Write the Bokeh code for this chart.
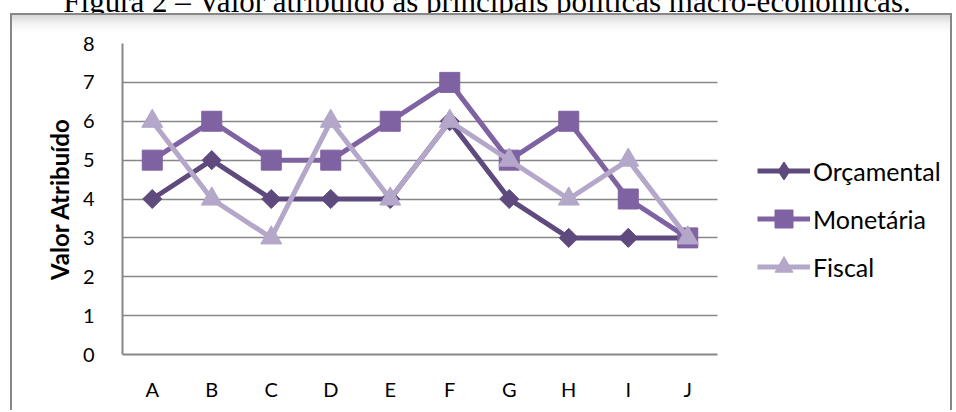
import math

from bokeh.embed import file_html
from bokeh.layouts import column
from bokeh.models import (ColumnDataSource, Div, FixedTicker, Grid, Legend,
                          LegendItem, Range1d)
from bokeh.plotting import figure
from bokeh.resources import INLINE

# Avaliação atribuída a cada política (escala 0-8)
categorias = ["A", "B", "C", "D", "E", "F", "G", "H", "I", "J"]
orcamental = [4, 5, 4, 4, 4, 6, 4, 3, 3, 3]
monetaria = [5, 6, 5, 5, 6, 7, 5, 6, 4, 3]
fiscal = [6, 4, 3, 6, 4, 6, 5, 4, 5, 3]
y_ticks = [0, 1, 2, 3, 4, 5, 6, 7, 8]

titulo = "Figura 2 – Valor atribuído às principais políticas macro-económicas."

FONT = "Lato"
GRID = "#878787"

# cada categoria ocupa uma unidade; o ponto fica no centro da unidade
pos = [i + 0.5 for i in range(len(categorias))]
n_cat = len(categorias)

# legenda da figura, acima da moldura (só a parte inferior fica visível)
head = Div(
    text=f'<div style="margin-top:-15px;white-space:nowrap;text-align:center;'
         f'font-family:\'Liberation Serif\';font-size:31px;line-height:31px;'
         f'color:black;width:974px">{titulo}</div>',
    width=956, height=13, margin=0,
    styles={"overflow": "hidden"},
)

# gráfico principal dentro da moldura; a área à direita acolhe a legenda
p = figure(
    width=942, height=397,
    x_range=Range1d(0, n_cat * 830 / 595),
    y_range=Range1d(0, 8),
    output_backend="svg", toolbar_location=None,
    min_border_left=110, min_border_right=2,
    min_border_top=28, min_border_bottom=58,
    background_fill_color="white", border_fill_alpha=0,
    margin=(0, 0, 0, 10),
    styles={
        "border-left": f"2px solid {GRID}",
        "border-top": f"2px solid {GRID}",
        "border-right": f"2px solid {GRID}",
        "background": "linear-gradient(to bottom, #d6d6d6 0px, #f4f4f4 9px, #ffffff 18px)",
    },
)
p.outline_line_color = None

p.xaxis.ticker = FixedTicker(ticks=pos)
p.xaxis.major_label_overrides = {x: c for x, c in zip(pos, categorias)}
p.xaxis.bounds = (0, n_cat)
p.xaxis.axis_line_color = GRID
p.xaxis.axis_line_width = 2
p.xaxis.major_tick_line_color = None
p.xaxis.minor_tick_line_color = None
p.xaxis.major_label_text_font = FONT
p.xaxis.major_label_text_font_size = "20px"
p.xaxis.major_label_text_color = "black"
p.xaxis.major_label_standoff = 16

p.yaxis.ticker = FixedTicker(ticks=y_ticks)
p.yaxis.axis_line_color = GRID
p.yaxis.axis_line_width = 2
p.yaxis.major_tick_line_color = None
p.yaxis.minor_tick_line_color = None
p.yaxis.major_label_text_font = FONT
p.yaxis.major_label_text_font_size = "20px"
p.yaxis.major_label_text_color = "black"
p.yaxis.major_label_standoff = 22
p.yaxis.axis_label = "Valor Atribuído"
p.yaxis.axis_label_text_font = FONT
p.yaxis.axis_label_text_font_size = "24px"
p.yaxis.axis_label_text_font_style = "bold"
p.yaxis.axis_label_text_color = "black"
p.yaxis.axis_label_standoff = 6

p.xgrid.grid_line_color = None
if "cross_bounds" in Grid.properties():
    p.ygrid.grid_line_color = GRID
    p.ygrid.grid_line_width = 1.5
    p.ygrid.cross_bounds = (0, n_cat)
else:
    p.ygrid.grid_line_color = None
    p.segment(x0=0, x1=n_cat, y0=y_ticks, y1=y_ticks, line_color=GRID,
              line_width=1.5, level="underlay")

src = ColumnDataSource(dict(x=pos, orc=orcamental, mon=monetaria, fis=fiscal))

# nome, coluna, cor, marcador no gráfico, tamanho, ângulo, marcador na legenda
series = [
    ("Orçamental", "orc", "#5f4a7e", "square", 13.5, math.pi / 4, "diamond"),
    ("Monetária", "mon", "#7f62a1", "square", 20, 0, "square"),
    ("Fiscal", "fis", "#b4a7c9", "triangle", 21, 0, "triangle"),
]

items = []
for name, col, color, marker, size, angle, leg_marker in series:
    ln = p.line("x", col, source=src, line_color=color, line_width=5)
    sc = p.scatter("x", col, source=src, marker=marker, size=size, angle=angle,
                   fill_color=color, line_color=color)
    if leg_marker != marker:
        # símbolo mostrado só na legenda (o ângulo não é aplicado na legenda)
        sc = p.scatter("x", col, source=src, marker=leg_marker,
                       fill_color=color, line_color=color, visible=False)
    items.append(LegendItem(label=name, renderers=[ln, sc]))

legend = Legend(
    items=items, location=(635, 65),
    glyph_width=53, glyph_height=45, spacing=3,
    label_text_font=FONT, label_text_font_size="25px", label_text_color="black",
    label_standoff=3, padding=0, margin=0,
    border_line_color=None, background_fill_alpha=0,
)
p.add_layout(legend, "center")

layout = column(head, p, spacing=0)
open("out.html", "w").write(file_html(layout, INLINE))
